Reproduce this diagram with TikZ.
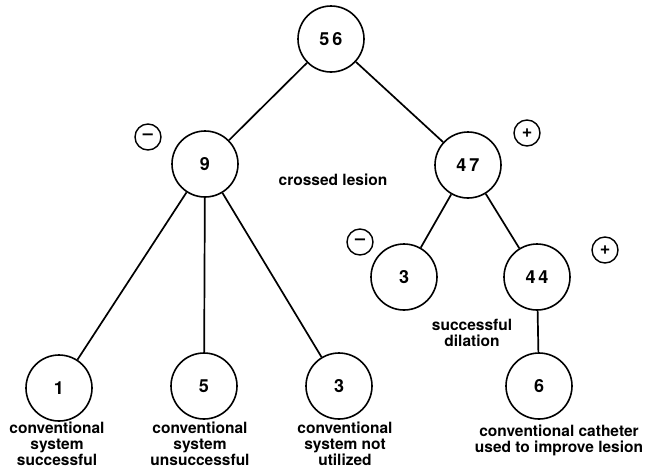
\documentclass[tikz,border=0pt]{standalone}
\usepackage{fontspec}
\setmainfont{TeX Gyre Heros}
\usepackage{tikz}

\begin{document}
\begin{tikzpicture}[x=1pt,y=-1pt,
  circ/.style={draw,circle,line width=1.6pt,minimum size=66pt,inner sep=0pt,
    font=\fontsize{18}{18}\selectfont\bfseries},
  sgn/.style={draw,circle,line width=1.4pt,minimum size=26pt,inner sep=0pt,
    font=\fontsize{18}{18}\selectfont\bfseries},
  lbl/.style={align=center,inner sep=0pt,
    font=\fontsize{15.5}{16}\selectfont\bfseries},
  edge/.style={line width=1.7pt}]
  \useasboundingbox (0,0) rectangle (647,472);
  \node[circ] (n56) at (331,39) {5\,6};
  \node[circ] (n9) at (205,164) {9};
  \node[circ] (n47) at (468,165) {4\,7};
  \node[circ] (n1) at (59,388) {1};
  \node[circ] (n5) at (204,386) {5};
  \node[circ] (n3a) at (339,386) {3};
  \node[circ] (n3b) at (404,277) {3};
  \node[circ] (n44) at (537,277) {4\,4};
  \node[circ] (n6) at (539,386) {6};
  \draw[edge] (n56) -- (n9);
  \draw[edge] (n56) -- (n47);
  \draw[edge] (n9) -- (n1);
  \draw[edge] (n9) -- (n5);
  \draw[edge] (n9) -- (n3a);
  \draw[edge] (n47) -- (n3b);
  \draw[edge] (n47) -- (n44);
  \draw[edge] (n44) -- (n6);
  \node[sgn] (m9) at (148,137) {--};
  \node[sgn] (p47) at (527,133) {+};
  \node[sgn] (m3) at (360,242) {--};
  \node[sgn] (p44) at (605,250) {+};
  \node[lbl] (lcross) at (333,180) {crossed lesion};
  \node[lbl] (ldil) at (472,333) {successful\\dilation};
  \node[lbl] (l1) at (57,444) {conventional\\system\\successful};
  \node[lbl] (l5) at (200,444) {conventional\\system\\unsuccessful};
  \node[lbl] (l3) at (345,444) {conventional\\system not\\utilized};
  \node[lbl] (l6) at (559,440) {conventional catheter\\used to improve lesion};
\end{tikzpicture}
\end{document}
